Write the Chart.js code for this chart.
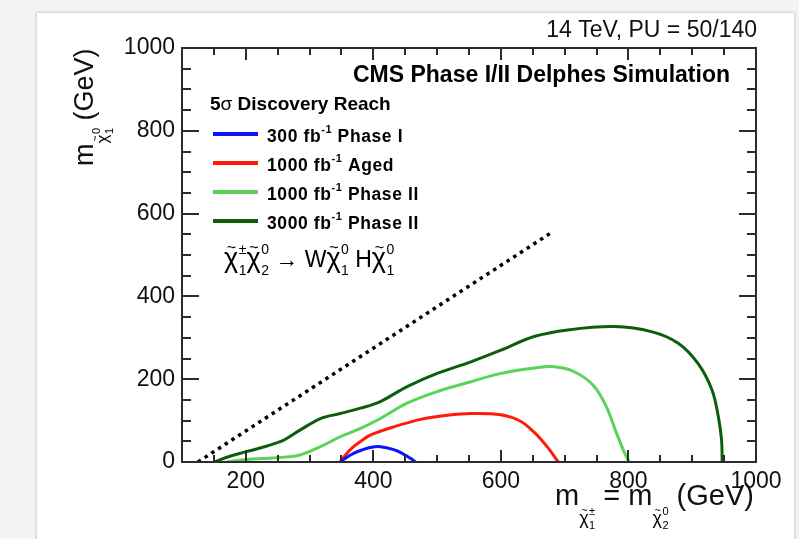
<!DOCTYPE html>
<html>
<head>
<meta charset="utf-8">
<script src="https://cdn.jsdelivr.net/npm/chart.js@4.4.1/dist/chart.umd.min.js"></script>
<style>
  html, body { margin: 0; padding: 0; background: #f3f4f4; width: 799px; height: 539px; overflow: hidden; }
  #card { position: absolute; left: 37px; top: 13px; width: 757px; height: 540px; background: #fff;
          box-shadow: 0 0 3px 1px rgba(0,0,0,0.16); }
  #c { position: absolute; left: 0; top: 0; }
</style>
</head>
<body>
<div id="card"></div>
<canvas id="c" width="799" height="539"></canvas>
<script>
const FONT = "'Liberation Sans', Arial, Helvetica, sans-serif";

// Kinematic limit: m(chi1^0) = m(chi2^0) - m(H)
const limitX = [125, 677];
const limitY = [0, 552];

// 5 sigma discovery contours, x = m(chi1+-) = m(chi2^0), y = m(chi1^0), in GeV
const phase1X = [348, 358, 369, 382, 395, 411, 432, 445, 453, 460, 466];
const phase1Y = [0, 11, 21, 29, 35, 37, 30, 21, 14, 7, 0];

const agedX = [348, 358, 369, 382, 395, 432, 474, 516, 553, 600, 630, 652, 673, 690];
const agedY = [0, 20, 37, 52, 65, 85, 103, 113, 117, 114, 99, 72, 36, 0];

const phase2X = [170, 201, 254, 285, 317, 348, 380, 411, 453, 500, 553, 600, 652, 684, 715, 745, 765, 780, 793, 801];
const phase2Y = [0, 6, 11, 17, 37, 61, 81, 105, 142, 170, 194, 214, 227, 230, 218, 185, 135, 75, 25, 0];

const phase2HLX = [151, 175, 201, 254, 285, 317, 348, 380, 411, 453, 500, 553, 600, 652, 705, 778, 836, 878, 909, 931, 941, 946, 947];
const phase2HLY = [0, 14, 25, 49, 77, 105, 117, 130, 146, 182, 214, 242, 270, 303, 319, 327, 315, 287, 238, 174, 109, 53, 0];

const xTickValues = [200, 400, 600, 800, 1000];
const yTickValues = [0, 200, 400, 600, 800, 1000];

const lumiLabels = ['300', '1000', '1000', '3000'];
const phaseLabels = ['Phase I', 'Aged', 'Phase II', 'Phase II'];

const toXY = (xs, ys) => xs.map((v, i) => ({ x: v, y: ys[i] }));

function txt(ctx, s, x, y, size, opts = {}) {
  ctx.font = (opts.bold ? 'bold ' : '') + size + 'px ' + FONT;
  ctx.textAlign = opts.align || 'left';
  ctx.textBaseline = opts.baseline || 'alphabetic';
  ctx.fillStyle = opts.color || '#000';
  ctx.fillText(s, x, y);
  return ctx.measureText(s).width;
}

// chi with a tilde above and stacked subscript / superscript; returns advance width
function chi(ctx, x, y, size, sub, sup, small) {
  const w = txt(ctx, 'χ', x, y, size);
  txt(ctx, '~', x + w / 2 + 0.5, y - size * 0.7, size * 0.6, { align: 'center', baseline: 'middle' });
  const a = txt(ctx, sup, x + w + 0.5, y - size * 0.5, small);
  const b = txt(ctx, sub, x + w + 0.5, y + size * 0.3, small);
  return w + 0.5 + Math.max(a, b);
}

// ROOT-style frame with inward major/minor ticks on all four sides
const framePlugin = {
  id: 'frame',
  afterDatasetsDraw(chart) {
    const { ctx, chartArea: a, scales: { x, y } } = chart;
    ctx.save();
    ctx.strokeStyle = '#2b2b2b';
    ctx.lineWidth = 2;
    ctx.beginPath();
    for (let v = 150; v < 1000; v += 50) {
      const px = Math.round(x.getPixelForValue(v));
      const len = xTickValues.includes(v) ? 12 : 7;
      ctx.moveTo(px, a.bottom); ctx.lineTo(px, a.bottom - len);
      ctx.moveTo(px, a.top); ctx.lineTo(px, a.top + len);
    }
    for (let v = 50; v < 1000; v += 50) {
      const py = Math.round(y.getPixelForValue(v));
      const len = yTickValues.includes(v) ? 17 : 9;
      ctx.moveTo(a.left, py); ctx.lineTo(a.left + len, py);
      ctx.moveTo(a.right, py); ctx.lineTo(a.right - len, py);
    }
    ctx.stroke();
    ctx.strokeRect(a.left, a.top, a.right - a.left, a.bottom - a.top);
    ctx.restore();
  }
};

// Titles, legend and process label
const textPlugin = {
  id: 'texts',
  afterDraw(chart) {
    const ctx = chart.ctx;
    ctx.save();

    txt(ctx, '14 TeV, PU = 50/140', 757, 37, 23, { align: 'right', color: '#111' });
    txt(ctx, 'CMS Phase I/II Delphes Simulation', 730, 82, 23, { bold: true, align: 'right' });

    // legend header
    let hx = 210;
    hx += txt(ctx, '5', hx, 110, 19, { bold: true });
    hx += txt(ctx, 'σ', hx, 110, 19);
    txt(ctx, ' Discovery Reach', hx, 110, 19, { bold: true });

    // legend entries
    const ds = chart.data.datasets.slice(1);
    ds.forEach((d, i) => {
      const ly = 134 + i * 29;
      ctx.strokeStyle = d.borderColor;
      ctx.lineWidth = 4;
      ctx.beginPath();
      ctx.moveTo(213, ly); ctx.lineTo(258, ly);
      ctx.stroke();
      ctx.letterSpacing = '0.6px';
      let lx = 267;
      lx += txt(ctx, lumiLabels[i] + ' fb', lx, ly + 8, 17.5, { bold: true });
      lx += txt(ctx, '-1', lx, ly - 1, 11, { bold: true });
      txt(ctx, ' ' + phaseLabels[i], lx, ly + 8, 17.5, { bold: true });
      ctx.letterSpacing = '0px';
    });

    // process label
    let px = 224;
    const B = 267;
    px += chi(ctx, px, B, 27, '1', '±', 14);
    px += chi(ctx, px, B, 27, '2', '0', 14);
    px += txt(ctx, ' → W', px, B, 23);
    px += chi(ctx, px, B, 27, '1', '0', 14);
    px += txt(ctx, ' H', px, B, 23);
    chi(ctx, px, B, 27, '1', '0', 14);

    // x axis title
    let tx = 555;
    const TB = 505;
    tx += txt(ctx, 'm', tx, TB, 29, { color: '#111' });
    tx += chi(ctx, tx, TB + 19, 18, '1', '±', 11);
    tx += txt(ctx, ' = m', tx, TB, 29, { color: '#111' });
    tx += chi(ctx, tx, TB + 19, 18, '2', '0', 11);
    txt(ctx, ' (GeV)', tx, TB, 29, { color: '#111' });

    // y axis title
    ctx.save();
    ctx.translate(93, 166);
    ctx.rotate(-Math.PI / 2);
    let ty = 0;
    ty += txt(ctx, 'm', ty, 0, 27, { color: '#111' });
    ty += chi(ctx, ty, 15, 17, '1', '0', 11);
    txt(ctx, ' (GeV)', ty, 0, 27, { color: '#111' });
    ctx.restore();

    ctx.restore();
  }
};

const line = (data, color, width) => ({
  data, borderColor: color, borderWidth: width, showLine: true, pointRadius: 0, fill: false
});

new Chart(document.getElementById('c'), {
  type: 'scatter',
  data: {
    datasets: [
      Object.assign(line(toXY(limitX, limitY), '#000', 3.5), { borderDash: [3.5, 4.5], tension: 0 }),
      line(toXY(phase1X, phase1Y), '#0a14ff', 3),
      line(toXY(agedX, agedY), '#ff1a0a', 3),
      line(toXY(phase2X, phase2Y), '#58d458', 3),
      line(toXY(phase2HLX, phase2HLY), '#0c5e0c', 3)
    ]
  },
  options: {
    responsive: false,
    animation: false,
    devicePixelRatio: 1,
    elements: { line: { tension: 0.35 }, point: { radius: 0 } },
    layout: { padding: { left: 0, right: 43, top: 48, bottom: 0 } },
    plugins: { legend: { display: false }, tooltip: { enabled: false } },
    scales: {
      x: {
        type: 'linear', min: 100, max: 1000,
        grid: { display: false, drawTicks: false },
        border: { display: false },
        afterBuildTicks: s => { s.ticks = xTickValues.map(v => ({ value: v })); },
        afterFit: s => { s.height = 77; },
        ticks: { font: { family: FONT, size: 23 }, color: '#111', padding: 6, maxRotation: 0, autoSkip: false,
                 callback: v => String(v) }
      },
      y: {
        type: 'linear', min: 0, max: 1000,
        grid: { display: false, drawTicks: false },
        border: { display: false },
        afterBuildTicks: s => { s.ticks = yTickValues.map(v => ({ value: v })); },
        afterFit: s => { s.width = 182; },
        ticks: { font: { family: FONT, size: 23 }, color: '#111', padding: 7, autoSkip: false,
                 callback: v => String(v) }
      }
    }
  },
  plugins: [framePlugin, textPlugin]
});
</script>
</body>
</html>
